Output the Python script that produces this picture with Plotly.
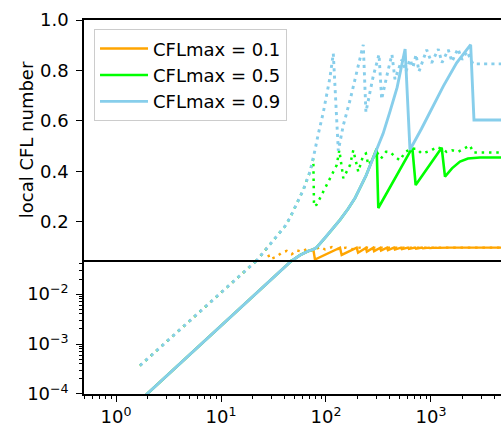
import math
import plotly.graph_objects as go

# Shared growth phase of the local CFL number (solid curves), before the cap is hit
base_steps = [1.7, 2.03, 10, 45.2, 48, 56.5, 67.4, 75.7, 81.1, 97.9, 114, 136, 162, 189,
              241, 304, 350, 408, 476, 567]
base_cfl = [7.5e-5, 1.06e-4, 2.32e-3, 0.043, 0.048, 0.068, 0.084, 0.091, 0.098, 0.137,
            0.169, 0.208, 0.251, 0.294, 0.384, 0.490, 0.550, 0.639, 0.733, 0.885]

# Shared growth phase of the dotted curves
dot_base_steps = [1.69, 10, 21.9, 25.3, 26.8, 29.3, 35.1, 40.7, 45.4, 52.6, 60.8, 70.4,
                  75.7, 78.5, 84.5, 94.3, 109, 117.4]
dot_base_cfl = [3.7e-4, 0.0107, 0.047, 0.078, 0.092, 0.111, 0.149, 0.183, 0.216, 0.275,
                0.327, 0.399, 0.450, 0.484, 0.549, 0.634, 0.771, 0.867]

# CFLmax = 0.1, solid: after the base curve reaches ~0.09
s01_steps = [78.5, 136, 141, 196, 202, 240, 245, 281, 287, 327, 334, 381, 389, 444, 453,
             518, 528, 604, 616, 704, 719, 821, 838, 957, 977, 1116, 1139, 1500, 5000]
s01_cfl = [0.051, 0.098, 0.069, 0.098, 0.078, 0.097, 0.082, 0.097, 0.084, 0.097, 0.086,
           0.098, 0.088, 0.098, 0.090, 0.098, 0.092, 0.098, 0.093, 0.098, 0.094, 0.098,
           0.095, 0.098, 0.096, 0.098, 0.097, 0.098, 0.098]

# CFLmax = 0.5, solid
s05_steps = [315, 664, 715, 1265, 1360, 1585, 1890, 2250, 2929, 5000]
s05_cfl = [0.255, 0.494, 0.346, 0.494, 0.379, 0.412, 0.439, 0.451, 0.455, 0.455]

# CFLmax = 0.9, solid
s09_steps = [631, 812, 977, 1312, 1757, 2388, 2567, 5000]
s09_cfl = [0.486, 0.569, 0.634, 0.738, 0.830, 0.902, 0.604, 0.604]

# CFLmax = 0.1, dotted
d01_steps = [29.3, 33.9, 37.9, 42.3, 47.1, 52.6, 58.7, 67.8, 75.2, 87.7, 97.9, 114, 130,
             155, 177, 211, 327, 5000]
d01_cfl = [0.052, 0.062, 0.078, 0.085, 0.072, 0.087, 0.082, 0.095, 0.084, 0.101, 0.091,
           0.100, 0.092, 0.098, 0.092, 0.098, 0.098, 0.098]

# CFLmax = 0.5, dotted
d05_steps = [76.9, 81.5, 87.7, 94.3, 101.6, 109.2, 117.4, 126.5, 133.9, 146.2, 157.4, 169.3,
             182, 203, 226.5, 240, 253, 282, 304, 334, 373, 408, 454, 507, 567, 655, 731,
             812, 910, 1016, 1133, 1265, 1411, 1585, 1807, 2061, 2352, 2528, 5000]
d05_cfl = [0.262, 0.268, 0.294, 0.320, 0.346, 0.373, 0.399, 0.425, 0.484, 0.373, 0.399,
           0.425, 0.484, 0.399, 0.464, 0.471, 0.425, 0.451, 0.477, 0.451, 0.478, 0.477,
           0.458, 0.444, 0.477, 0.490, 0.490, 0.471, 0.477, 0.484, 0.497, 0.490, 0.477,
           0.484, 0.477, 0.490, 0.503, 0.475, 0.475]

# CFLmax = 0.9, dotted
d09_steps = [131, 146, 169, 196, 226.5, 240, 282, 320, 339, 392, 425, 454, 529, 578, 631,
             674, 720, 769, 910, 1016, 1174, 1273, 1462, 1585, 1807, 1974, 2203, 2512, 5000]
d09_cfl = [0.482, 0.582, 0.680, 0.791, 0.902, 0.635, 0.778, 0.863, 0.686, 0.804, 0.863,
           0.765, 0.843, 0.796, 0.843, 0.812, 0.863, 0.796, 0.882, 0.830, 0.885, 0.831,
           0.882, 0.835, 0.886, 0.843, 0.875, 0.826, 0.826]

cfl_labels = ["CFLmax = 0.1", "CFLmax = 0.5", "CFLmax = 0.9"]
colors = ["orange", "lime", "skyblue"]
# later curves are drawn a touch wider so they fully cover shared segments
widths = [2.4, 2.6, 2.9]
dot_widths = [2.4, 2.5, 2.9]
dot_dashes = ["2.5px,4.8px", "2.5px,4.8px", "3.1px,4.2px"]

split = 0.047          # boundary between the log part and the linear part of the y axis
x_ticks = [1, 10, 100, 1000]
x_ticktext = ["10<sup>0</sup>", "10<sup>1</sup>", "10<sup>2</sup>", "10<sup>3</sup>"]
lin_ticks = [0.2, 0.4, 0.6, 0.8, 1.0]
lin_ticktext = ["0.2", "0.4", "0.6", "0.8", "1.0"]
log_ticks = [1e-4, 1e-3, 1e-2]
log_ticktext = ["10<sup>\u22124</sup>", "10<sup>\u22123</sup>", "10<sup>\u22122</sup>"]


def join(base_x, base_y, tail_x, tail_y):
    xs = [x for x in base_x if x < tail_x[0]]
    ys = base_y[:len(xs)]
    return xs + tail_x, ys + tail_y


solid = [join(base_steps, base_cfl, s01_steps, s01_cfl),
         join(base_steps, base_cfl, s05_steps, s05_cfl),
         join(base_steps, base_cfl, s09_steps, s09_cfl)]
dotted = [join(dot_base_steps, dot_base_cfl, d01_steps, d01_cfl),
          join(dot_base_steps, dot_base_cfl, d05_steps, d05_cfl),
          join(dot_base_steps, dot_base_cfl, d09_steps, d09_cfl)]

fig = go.Figure()
for i in range(3):
    styles = ((solid[i], dict(color=colors[i], width=widths[i], dash="solid"), True),
              (dotted[i], dict(color=colors[i], width=dot_widths[i], dash=dot_dashes[i]), False))
    for (xs, ys), line, leg in styles:
        # upper (linear) panel
        fig.add_trace(go.Scatter(x=xs, y=ys, mode="lines", xaxis="x2", yaxis="y", line=line,
                                 name=cfl_labels[i], showlegend=leg, hoverinfo="skip"))
        # lower (logarithmic) panel
        fig.add_trace(go.Scatter(x=xs, y=ys, mode="lines", xaxis="x", yaxis="y2", line=line,
                                 name=cfl_labels[i], showlegend=False, hoverinfo="skip"))

x_minor = [m * 10 ** e for e in range(-1, 4) for m in range(2, 10)
           if 0.5 <= m * 10 ** e <= 5000]
y_minor = [m * 10 ** e for e in range(-4, -1) for m in range(2, 10) if m * 10 ** e < split]

font = dict(family="DejaVu Sans", size=18, color="black")
low_frac = (math.log10(split) + 4) * 50.5 / 378

axis_common = dict(showgrid=False, zeroline=False, showline=True, linecolor="black",
                   linewidth=1.5, tickcolor="black", tickfont=font)

fig.update_layout(
    width=501, height=427,
    margin=dict(l=84, r=0, t=20, b=29),
    paper_bgcolor="white", plot_bgcolor="white",
    font=font,
    showlegend=True,
    hovermode=False,
    xaxis=dict(type="log", range=[-0.305, 3.667], anchor="y2", ticks="outside",
               ticklen=6, tickwidth=1.2, tickmode="array", tickvals=x_ticks,
               ticktext=x_ticktext,
               minor=dict(tickmode="array", tickvals=x_minor, ticks="outside",
                          ticklen=3.5, tickwidth=1, tickcolor="black"),
               **axis_common),
    xaxis2=dict(type="log", matches="x", anchor="y", mirror=True, ticks="",
                showticklabels=False, **axis_common),
    yaxis=dict(domain=[low_frac, 1], range=[split, 1.0], anchor="x2", ticks="outside",
               ticklen=6, tickwidth=1.2, tickmode="array", tickvals=lin_ticks,
               ticktext=lin_ticktext, ticklabelstandoff=4, **axis_common),
    yaxis2=dict(domain=[0, low_frac], type="log", range=[-4, math.log10(split)],
                anchor="x", ticks="outside", ticklen=6, tickwidth=1.2, tickmode="array",
                tickvals=log_ticks, ticktext=log_ticktext, ticklabelstandoff=4,
                minor=dict(tickmode="array", tickvals=y_minor, ticks="outside",
                           ticklen=3.5, tickwidth=1, tickcolor="black"),
                **axis_common),
    legend=dict(x=0.024, y=0.975, xanchor="left", yanchor="top",
                bgcolor="rgba(255,255,255,0.8)", bordercolor="#cccccc", borderwidth=1,
                font=font, itemwidth=48),
    annotations=[dict(text="local CFL number", textangle=-90, xref="paper", yref="paper",
                      x=0, y=(low_frac + 1) / 2, xanchor="center", yanchor="middle",
                      xshift=-58, showarrow=False, font=font)],
)

fig.write_html("out.html")
